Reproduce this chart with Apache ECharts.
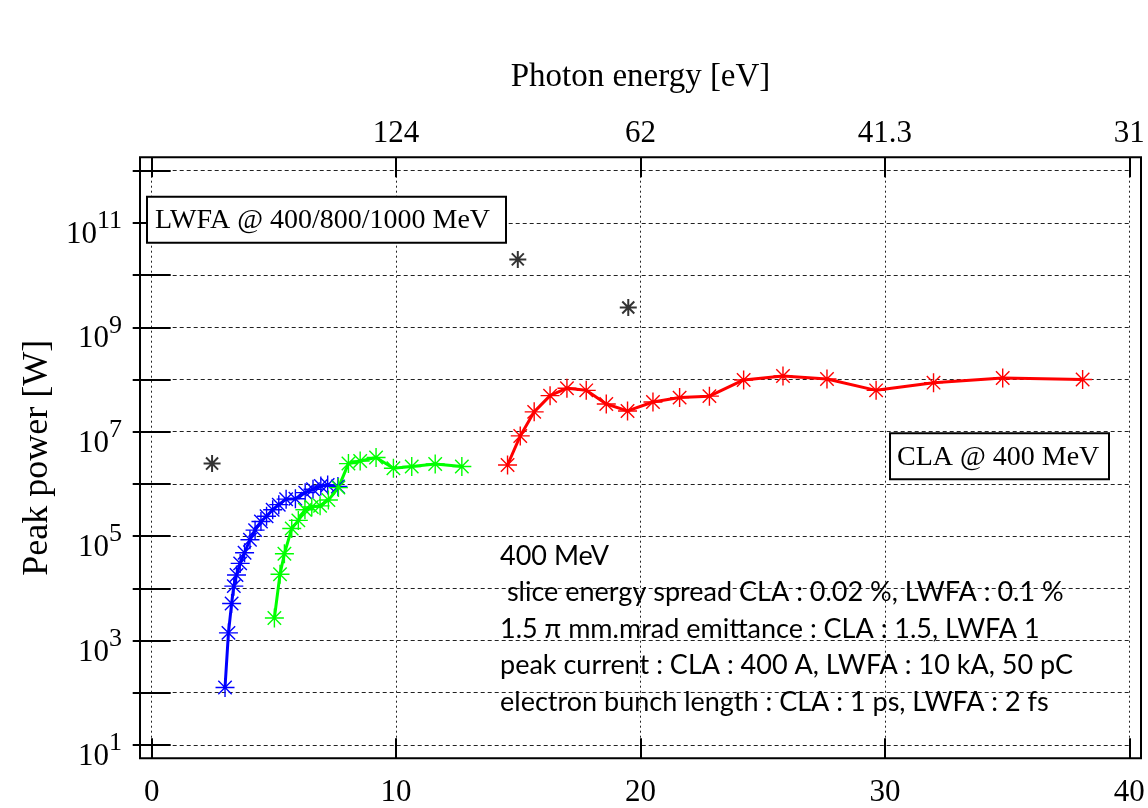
<!DOCTYPE html>
<html><head><meta charset="utf-8">
<script src="https://cdn.jsdelivr.net/npm/echarts@6/dist/echarts.min.js"></script>
<style>html,body{margin:0;padding:0;background:#fff}#c{width:1148px;height:808px}</style>
</head><body><div id="c"></div>
<script>
// ---- data ----
const blueX = [3.00, 3.14, 3.27, 3.36, 3.47, 3.62, 3.80, 4.02, 4.23, 4.47, 4.70, 4.95, 5.20, 5.50, 5.88, 6.28, 6.60, 6.92, 7.20, 7.62];
const bluePower = [1.26e2, 1.4e3, 5.1e3, 1.1e4, 1.8e4, 3.0e4, 4.8e4, 8.5e4, 1.3e5, 1.9e5, 2.4e5, 3.2e5, 4.0e5, 5.1e5, 5.2e5, 6.8e5, 7.9e5, 9.1e5, 9.5e5, 8.9e5];
const greenX = [5.02, 5.25, 5.43, 5.73, 6.00, 6.27, 6.55, 6.89, 7.23, 7.64, 8.05, 8.53, 9.18, 9.89, 10.64, 11.60, 12.69];
const greenPower = [2.7e3, 1.86e4, 4.6e4, 1.4e5, 2.0e5, 3.2e5, 3.6e5, 3.8e5, 4.9e5, 8.5e5, 2.45e6, 2.75e6, 3.2e6, 2.0e6, 2.15e6, 2.4e6, 2.15e6];
const redX = [14.56, 15.08, 15.65, 16.30, 16.99, 17.78, 18.60, 19.47, 20.51, 21.60, 22.82, 24.22, 25.83, 27.63, 29.64, 31.99, 34.82, 38.09];
const redPower = [2.3e6, 8.3e6, 2.4e7, 4.9e7, 6.8e7, 6.2e7, 3.4e7, 2.5e7, 3.7e7, 4.5e7, 4.8e7, 9.8e7, 1.17e8, 1.02e8, 6.2e7, 8.7e7, 1.07e8, 1.0e8];
const blackX = [2.47, 14.98, 19.50];
const blackPower = [2.45e6, 2.0e10, 2.4e9];

const xTicks = [0, 10, 20, 30, 40];
const topTickLabels = ['', '124', '62', '41.3', '31'];
const yTicks = [1e1, 1e2, 1e3, 1e4, 1e5, 1e6, 1e7, 1e8, 1e9, 1e10, 1e11, 1e12];
const yLabelTicks = [1e1, 1e3, 1e5, 1e7, 1e9, 1e11];

const xTitle = 'Photon energy [eV]';
const yTitle = 'Peak power [W]';
const boxLWFA = 'LWFA @ 400/800/1000 MeV';
const boxCLA = 'CLA @ 400 MeV';
const noteLines = [
  '400 MeV',
  ' slice energy spread CLA : 0.02 %, LWFA : 0.1 %',
  '1.5 \u03c0 mm.mrad emittance : CLA : 1.5, LWFA 1',
  'peak current : CLA : 400 A, LWFA : 10 kA, 50 pC',
  'electron bunch length : CLA : 1 ps, LWFA : 2 fs'
];

// ---- helpers ----
const zip = (xs, ys) => xs.map((x, i) => [x, ys[i]]);
const SERIF = '"Liberation Serif", "Times New Roman", serif';
const SANS = 'Lato, "Noto Sans", sans-serif';
const STAR = 'path://M0 -10L0 10M-10 0L10 0M-7.07 -7.07L7.07 7.07M-7.07 7.07L7.07 -7.07';

function lineSeries(name, xs, ys, color) {
  return {
    name, type: 'line', data: zip(xs, ys), xAxisIndex: 0, yAxisIndex: 0,
    color, symbol: STAR, symbolSize: 19, showSymbol: true,
    lineStyle: { color, width: 3 },
    itemStyle: { color, borderColor: color, borderWidth: 1.4 },
    emphasis: { disabled: true }, z: 3
  };
}

const chart = echarts.init(document.getElementById('c'), null, { renderer: 'canvas' });
const tickStyle = { color: '#000', width: 2 };
const axisLabelBase = { color: '#000', fontFamily: SERIF, fontSize: 31 };

const option = {
  animation: false,
  backgroundColor: '#fff',
  grid: { left: 151.7, right: 18.7, top: 170.7, bottom: 63.1, containLabel: false, outerBoundsMode: 'none' },
  xAxis: [
    {
      type: 'value', position: 'bottom', min: 0, max: 40, interval: 10, offset: 13.4,
      axisLine: { show: false },
      axisTick: { inside: true, length: 20, lineStyle: tickStyle },
      axisLabel: Object.assign({ margin: 19 }, axisLabelBase),
      splitLine: { show: true, lineStyle: { color: '#222', width: 1, type: [2, 3] } }
    },
    {
      type: 'value', position: 'top', min: 0, max: 40, interval: 10, offset: 13.4,
      name: xTitle, nameLocation: 'middle', nameGap: 63.6,
      nameTextStyle: { color: '#000', fontFamily: SERIF, fontSize: 33 },
      axisLine: { show: false },
      axisTick: { inside: true, length: 20, lineStyle: tickStyle },
      axisLabel: Object.assign({ margin: 7.5, formatter: v => topTickLabels[xTicks.indexOf(v)] || '' }, axisLabelBase),
      splitLine: { show: false }
    }
  ],
  yAxis: [
    {
      type: 'log', position: 'left', min: 1e1, max: 1e12, offset: 11.7,
      name: yTitle, nameLocation: 'middle', nameRotate: 90, nameGap: 84,
      nameTextStyle: { color: '#000', fontFamily: SERIF, fontSize: 36 },
      axisLine: { show: false },
      axisTick: { inside: true, length: 19, lineStyle: tickStyle, customValues: yTicks },
      axisLabel: {
        customValues: yLabelTicks, margin: 18, padding: [13, 0, 0, 0],
        formatter: v => '{b|10}{s|' + Math.round(Math.log10(v)) + '}',
        rich: {
          b: { fontFamily: SERIF, fontSize: 31, color: '#000', lineHeight: 42, verticalAlign: 'bottom' },
          s: { fontFamily: SERIF, fontSize: 26, color: '#000', lineHeight: 26, verticalAlign: 'top' }
        }
      },
      splitLine: { show: true, lineStyle: { color: '#222', width: 1, type: [4, 3] } }
    },
    {
      type: 'log', position: 'right', min: 1e1, max: 1e12, offset: 11.7,
      axisLine: { show: false },
      axisTick: { inside: true, length: 19, lineStyle: tickStyle, customValues: yTicks },
      axisLabel: { show: false },
      splitLine: { show: false }
    }
  ],
  series: [
    lineSeries('LWFA 400 MeV', blueX, bluePower, '#0000ff'),
    lineSeries('LWFA 800 MeV', greenX, greenPower, '#00ff00'),
    lineSeries('CLA 400 MeV', redX, redPower, '#ff0000'),
    {
      name: 'reference', type: 'scatter', data: zip(blackX, blackPower), xAxisIndex: 0, yAxisIndex: 0,
      symbol: STAR, symbolSize: 17,
      itemStyle: { color: '#000', borderColor: '#000', borderWidth: 2 },
      emphasis: { disabled: true }, z: 4
    }
  ],
  graphic: [
    { type: 'rect', z: 100, silent: true, shape: { x: 140, y: 157.3, width: 1001, height: 601 },
      style: { fill: 'none', stroke: '#000', lineWidth: 2 } },
    { type: 'rect', z: 50, silent: true, shape: { x: 147, y: 196.7, width: 359, height: 46 },
      style: { fill: '#fff', stroke: '#000', lineWidth: 2 } },
    { type: 'text', z: 51, silent: true, x: 155, y: 221,
      style: { text: boxLWFA, font: '28px ' + SERIF, fill: '#000', textAlign: 'left', textVerticalAlign: 'middle', align: 'left', verticalAlign: 'middle' } },
    { type: 'rect', z: 50, silent: true, shape: { x: 890, y: 433.3, width: 219, height: 46 },
      style: { fill: '#fff', stroke: '#000', lineWidth: 2 } },
    { type: 'text', z: 51, silent: true, x: 897, y: 457.5,
      style: { text: boxCLA, font: '28px ' + SERIF, fill: '#000', textAlign: 'left', textVerticalAlign: 'middle', align: 'left', verticalAlign: 'middle' } }
  ].concat(noteLines.map((t, i) => ({
    type: 'text', z: 51, silent: true, x: 500, y: 556 + i * 36.5,
    style: { text: t, font: '27px ' + SANS, fill: '#000', textAlign: 'left', textVerticalAlign: 'middle', align: 'left', verticalAlign: 'middle' }
  })))
};
chart.setOption(option);
</script>
</body></html>
